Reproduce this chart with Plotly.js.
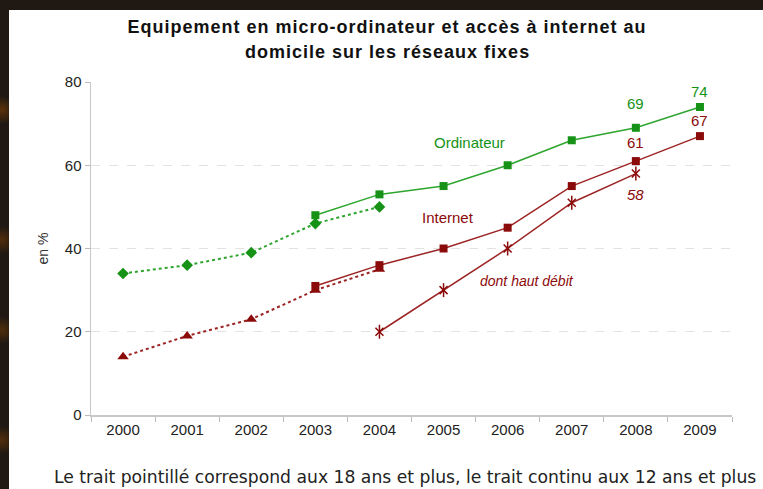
<!DOCTYPE html>
<html>
<head>
<meta charset="utf-8">
<script src="https://cdn.plot.ly/plotly-3.0.1.min.js"></script>
<style>
  html, body { margin: 0; padding: 0; width: 763px; height: 489px; overflow: hidden;
    background: #201913; }
  #bg { position: absolute; left: 0; top: 0; width: 763px; height: 489px;
    background:
      radial-gradient(circle at 2px 110px, rgba(140,70,0,0.55) 0, rgba(140,70,0,0) 14px),
      radial-gradient(circle at 2px 240px, rgba(140,70,0,0.45) 0, rgba(140,70,0,0) 14px),
      radial-gradient(circle at 2px 330px, rgba(140,70,0,0.45) 0, rgba(140,70,0,0) 14px),
      radial-gradient(circle at 2px 440px, rgba(140,70,0,0.45) 0, rgba(140,70,0,0) 14px),
      #201913; }
  #chart { position: absolute; left: 9px; top: 10px; width: 754px; height: 479px;
    background: #ffffff; overflow: hidden; }
  #chart g.annotation[data-index="0"] text,
  #chart g.annotation[data-index="1"] text { letter-spacing: 1px; }
</style>
</head>
<body>
<div id="bg"></div>
<div id="chart"></div>
<script>
// ---- data ----
const years = ["2000","2001","2002","2003","2004","2005","2006","2007","2008","2009"];
const ordiYears12 = ["2003","2004","2005","2006","2007","2008","2009"];
const ordi12 = [48, 53, 55, 60, 66, 69, 74];
const ordiYears18 = ["2000","2001","2002","2003","2004"];
const ordi18 = [34, 36, 39, 46, 50];
const netYears12 = ["2003","2004","2005","2006","2007","2008","2009"];
const net12 = [31, 36, 40, 45, 55, 61, 67];
const netYears18 = ["2000","2001","2002","2003","2004"];
const net18 = [14, 19, 23, 30, 35];
const hdYears = ["2004","2005","2006","2007","2008"];
const hd = [20, 30, 40, 51, 58];
const yTicks = [0, 20, 40, 60, 80];
const titleLines = ["Equipement en micro-ordinateur et accès à internet au", "domicile sur les réseaux fixes"];

const GREEN = "#169216";
const GREEN_LINE = "#2ea52e";
const RED = "#8b0a0a";
const RED_LINE = "#9c2424";

const traces = [
  { x: ordiYears18, y: ordi18, mode: "lines+markers", type: "scatter",
    line: { color: GREEN_LINE, width: 2, dash: "dot" },
    marker: { symbol: "diamond", size: 9, color: GREEN } },
  { x: netYears18, y: net18, mode: "lines+markers", type: "scatter",
    line: { color: RED_LINE, width: 2, dash: "dot" },
    marker: { symbol: "triangle-up", size: 10, color: RED } },
  { x: ordiYears12, y: ordi12, mode: "lines+markers", type: "scatter",
    line: { color: GREEN_LINE, width: 1.5 },
    marker: { symbol: "square", size: 8, color: GREEN } },
  { x: netYears12, y: net12, mode: "lines+markers", type: "scatter",
    line: { color: RED_LINE, width: 1.5 },
    marker: { symbol: "square", size: 8, color: RED } },
  { x: hdYears, y: hd, mode: "lines+markers", type: "scatter",
    line: { color: RED_LINE, width: 1.5 },
    marker: { symbol: "x-thin-open", size: 8, color: RED, line: { color: RED, width: 1.5 } } },
  { x: hdYears, y: hd, mode: "markers", type: "scatter",
    marker: { symbol: "line-ns-open", size: 10, color: RED, line: { color: RED, width: 1.5 } } }
];

const F = "Liberation Sans, Arial, sans-serif";
const lastOrdi = ordi12.length - 1, lastNet = net12.length - 1, lastHd = hd.length - 1;
const idx = (y) => years.indexOf(y);

const annotations = [
  { xref: "paper", yref: "paper", x: 0.4625, y: (405 - 17) / 333, yanchor: "middle",
    text: "<b>" + titleLines[0] + "</b>", font: { size: 18, color: "#111" } },
  { xref: "paper", yref: "paper", x: 0.4625, y: (405 - 42) / 333, yanchor: "middle",
    text: "<b>" + titleLines[1] + "</b>", font: { size: 18, color: "#111" } },
  { x: idx(ordiYears12[lastOrdi - 1]), y: ordi12[lastOrdi - 1], text: String(ordi12[lastOrdi - 1]),
    yshift: 24, font: { color: GREEN, size: 15 } },
  { x: idx(ordiYears12[lastOrdi]), y: ordi12[lastOrdi], text: String(ordi12[lastOrdi]),
    yshift: 15, font: { color: GREEN, size: 15 } },
  { x: idx(netYears12[lastNet]), y: net12[lastNet], text: String(net12[lastNet]),
    yshift: 16, font: { color: RED, size: 15 } },
  { x: idx(netYears12[lastNet - 1]), y: net12[lastNet - 1], text: String(net12[lastNet - 1]),
    yshift: 19, font: { color: RED, size: 15 } },
  { x: idx(hdYears[lastHd]), y: hd[lastHd], text: "<i>" + hd[lastHd] + "</i>",
    yshift: -21, font: { color: RED, size: 15 } },
  { x: 5.41, y: 65.4, text: "Ordinateur", font: { color: GREEN, size: 15 } },
  { x: 5.07, y: 47.4, text: "Internet", font: { color: RED, size: 15 } },
  { x: 6.3, y: 32.2, text: "<i>dont haut débit</i>", font: { color: RED, size: 14 } },
  { xref: "paper", yref: "paper", x: (33 - 82) / 641, xanchor: "center", y: 0.5, yanchor: "middle",
    text: "en %", textangle: -90, font: { color: "#333", size: 14 } },
  { xref: "paper", yref: "paper", x: (43 - 82) / 641, xanchor: "left", y: (405 - 467) / 333,
    yanchor: "middle", text: "Le trait pointillé correspond aux 18 ans et plus, le trait continu aux 12 ans et plus",
    font: { family: "DejaVu Sans, Verdana, sans-serif", color: "#222", size: 17.2 } }
].map(a => Object.assign({ xref: "x", yref: "y", showarrow: false, font: {} }, a));
annotations.forEach(a => { a.font = Object.assign({ family: F }, a.font); });

const layout = {
  width: 754, height: 479,
  margin: { l: 82, r: 31, t: 72, b: 74 },
  paper_bgcolor: "#ffffff", plot_bgcolor: "#ffffff",
  showlegend: false,
  font: { family: F, color: "#333", size: 14 },
  xaxis: {
    type: "category", categoryorder: "array", categoryarray: years,
    range: [-0.5, 9.5], tickson: "boundaries",
    ticks: "outside", ticklen: 5, tickcolor: "#bbb",
    showline: true, linecolor: "#c8c8c8", linewidth: 1.5,
    showgrid: false, zeroline: false,
    tickfont: { family: F, size: 15, color: "#222" }
  },
  yaxis: {
    range: [0, 80], tickvals: yTicks, ticktext: yTicks.map(String),
    ticks: "outside", ticklen: 5, tickcolor: "#bbb",
    showline: true, linecolor: "#c8c8c8", linewidth: 1.5,
    showgrid: true, gridcolor: "#e2e2e2", griddash: "dash", gridwidth: 1,
    zeroline: false,
    tickfont: { family: F, size: 15, color: "#222" }
  },
  annotations: annotations
};

Plotly.newPlot("chart", traces, layout, { staticPlot: true, displayModeBar: false });
</script>
</body>
</html>
